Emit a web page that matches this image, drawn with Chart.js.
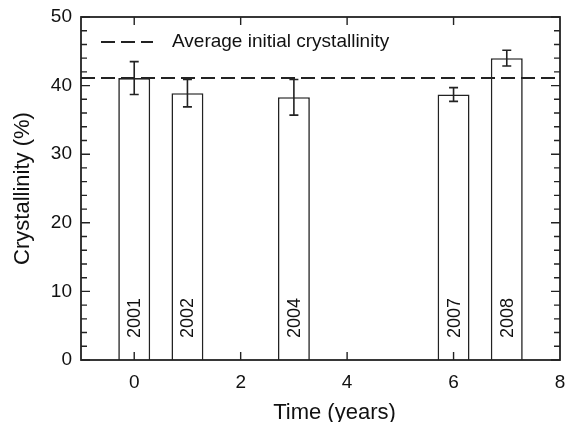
<!DOCTYPE html>
<html>
<head>
<meta charset="utf-8">
<script src="https://cdn.jsdelivr.net/npm/chart.js@4/dist/chart.umd.min.js"></script>
<style>
  html, body { margin: 0; padding: 0; background: #ffffff; }
  #wrap { width: 565px; height: 422px; position: relative; }
</style>
</head>
<body>
<div id="wrap"><canvas id="c" width="565" height="422"></canvas></div>
<script>
// ---- data ----
const years = ['2001', '2002', '2004', '2007', '2008'];
const timeYears = [0, 1, 3, 6, 7];
const crystallinity = [41.1, 38.9, 38.3, 38.7, 44.0];
const crystallinityErr = [2.4, 2.0, 2.6, 1.0, 1.15];
const averageInitial = 41.1;
const averageLabel = 'Average initial crystallinity';
const xRange = [-1, 8];
const yRange = [0, 50];
const xTitle = 'Time (years)';
const yTitle = 'Crystallinity (%)';

const INK = '#222222';
const FONT = '"Liberation Sans", Arial, Helvetica, sans-serif';

const decorPlugin = {
  id: 'decor',
  afterDatasetsDraw(chart) {
    const ctx = chart.ctx;
    const xs = chart.scales.x, ys = chart.scales.y;
    const ca = chart.chartArea;
    ctx.save();
    // error bars
    ctx.strokeStyle = INK;
    ctx.lineWidth = 1.6;
    timeYears.forEach((t, i) => {
      const px = xs.getPixelForValue(t);
      const yTop = ys.getPixelForValue(crystallinity[i] + crystallinityErr[i]);
      const yBot = ys.getPixelForValue(crystallinity[i] - crystallinityErr[i]);
      ctx.beginPath();
      ctx.moveTo(px, yTop); ctx.lineTo(px, yBot);
      ctx.moveTo(px - 4.5, yTop); ctx.lineTo(px + 4.5, yTop);
      ctx.moveTo(px - 4.5, yBot); ctx.lineTo(px + 4.5, yBot);
      ctx.stroke();
    });
    // year labels inside bars
    ctx.fillStyle = '#111';
    ctx.font = '18px ' + FONT;
    ctx.textAlign = 'left';
    ctx.textBaseline = 'middle';
    timeYears.forEach((t, i) => {
      const px = xs.getPixelForValue(t);
      ctx.save();
      ctx.translate(px + 1, ys.bottom - 22);
      ctx.rotate(-Math.PI / 2);
      ctx.fillText(years[i], 0, 0);
      ctx.restore();
    });
    // frame
    ctx.lineWidth = 1.8;
    ctx.strokeStyle = INK;
    ctx.strokeRect(ca.left, ca.top, ca.right - ca.left, ca.bottom - ca.top);
    // inward ticks, y axis (left & right)
    ctx.lineWidth = 1.4;
    ctx.beginPath();
    for (let v = yRange[0]; v <= yRange[1]; v += 2) {
      const py = ys.getPixelForValue(v);
      const len = (v % 10 === 0) ? 9 : 6;
      ctx.moveTo(ca.left, py); ctx.lineTo(ca.left + len, py);
      ctx.moveTo(ca.right, py); ctx.lineTo(ca.right - len, py);
    }
    // inward ticks, x axis (top & bottom)
    for (let v = 0; v < xRange[1]; v += 2) {
      const px = xs.getPixelForValue(v);
      ctx.moveTo(px, ca.bottom); ctx.lineTo(px, ca.bottom - 8);
      ctx.moveTo(px, ca.top); ctx.lineTo(px, ca.top + 8);
    }
    ctx.stroke();
    // legend
    ctx.lineWidth = 2;
    ctx.setLineDash([14, 6]);
    ctx.beginPath();
    ctx.moveTo(ca.left + 20, ca.top + 25);
    ctx.lineTo(ca.left + 72, ca.top + 25);
    ctx.stroke();
    ctx.setLineDash([]);
    ctx.font = '19px ' + FONT;
    ctx.textAlign = 'left';
    ctx.textBaseline = 'middle';
    ctx.fillStyle = '#111';
    ctx.fillText(averageLabel, ca.left + 91, ca.top + 25);
    // x axis title
    ctx.font = '22px ' + FONT;
    ctx.textAlign = 'center';
    ctx.textBaseline = 'alphabetic';
    ctx.fillText(xTitle, (ca.left + ca.right) / 2 + 14, 419);
    ctx.restore();
  }
};

function zeroPad(s) {
  s.paddingLeft = 0; s.paddingRight = 0; s.paddingTop = 0; s.paddingBottom = 0;
}

new Chart(document.getElementById('c'), {
  type: 'bar',
  data: {
    datasets: [
      {
        type: 'line',
        label: averageLabel,
        data: xRange.map(x => ({ x: x, y: averageInitial })),
        borderColor: INK,
        borderWidth: 2,
        borderDash: [14, 6],
        pointRadius: 0,
        fill: false,
        order: 1
      },
      {
        type: 'bar',
        label: 'Crystallinity',
        data: timeYears.map((x, i) => ({ x: x, y: crystallinity[i] })),
        backgroundColor: '#ffffff',
        borderColor: INK,
        borderWidth: 1.6,
        barPercentage: 0.6,
        categoryPercentage: 1.0,
        order: 2
      }
    ]
  },
  options: {
    responsive: false,
    animation: false,
    layout: { padding: { left: 0, top: 17, right: 5, bottom: 0 } },
    plugins: { legend: { display: false }, tooltip: { enabled: false } },
    scales: {
      x: {
        type: 'linear',
        offset: false,
        min: xRange[0], max: xRange[1],
        grid: { display: false, drawTicks: false },
        border: { display: false },
        ticks: {
          stepSize: 2,
          padding: 11,
          color: '#111',
          font: { family: FONT, size: 19 },
          maxRotation: 0,
          callback: v => (v % 2 === 0 ? String(v) : '')
        },
        afterFit: s => { s.height = 62; zeroPad(s); }
      },
      y: {
        min: yRange[0], max: yRange[1],
        grid: { display: false, drawTicks: false },
        border: { display: false },
        ticks: {
          stepSize: 10,
          padding: 9,
          color: '#111',
          font: { family: FONT, size: 19 }
        },
        title: {
          display: true,
          text: yTitle,
          color: '#111',
          font: { family: FONT, size: 22 },
          padding: { top: 10, bottom: 0 }
        },
        afterFit: s => { s.width = 81; zeroPad(s); }
      }
    }
  },
  plugins: [decorPlugin]
});
</script>
</body>
</html>
